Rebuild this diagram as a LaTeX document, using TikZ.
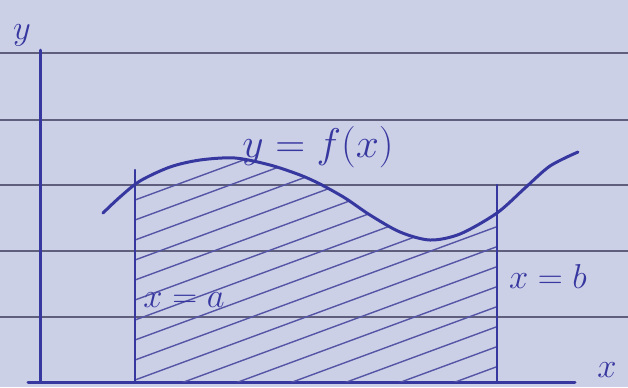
\documentclass[tikz,border=0pt]{standalone}
\usepackage{amsmath,amssymb}
\usetikzlibrary{positioning}

\definecolor{paper}{RGB}{204,208,231}
\definecolor{ruling}{RGB}{95,95,125}
\definecolor{ink}{RGB}{55,55,160}
\definecolor{hatchink}{RGB}{85,85,165}

\begin{document}
\begin{tikzpicture}[x=0.5pt,y=-0.5pt,
  pen/.style={draw=ink,line width=1.5pt,line cap=round,line join=round},
  hatchline/.style={draw=hatchink,line width=0.7pt,line cap=round},
  label/.style={text=ink,font=\LARGE,inner sep=0pt}]
% Paper background
\fill[paper] (0,0) rectangle (628,387);
\useasboundingbox (0,0) rectangle (628,387);
% Draw the ruled lines of the page
\foreach \r in {53,120,185,251,317}
  \draw[ruling,line width=0.6pt] (0,\r) -- (628,\r);
% Axes
\coordinate (O) at (40,382);
\coordinate (ytop) at (40,50);
\coordinate (xstart) at (28,382);
\coordinate (xend) at (575,382);
\draw[pen] (O) -- (ytop);
\draw[pen] (xstart) -- (xend);
\node[label] (ylab) at (22,35) {$y$};
\node[label] (xlab) at (607,370) {$x$};
% Hatch the area under the curve
\begin{scope}
  \clip (135,382) -- plot[smooth] coordinates {(135,183) (170,167) (200,160) (235,158) (270,165) (300,175) (320,184) (345,198) (370,215) (400,232) (430,240) (460,234) (497,213)} -- (497,382) -- cycle;
  \foreach \c in {180,200,...,540}
    \draw[hatchline] (135,\c) -- ++(380,-140);
\end{scope}
% The curve y = f(x)
\draw[pen] plot[smooth] coordinates {(103,213) (120,197) (140,181) (170,167) (200,160) (235,158) (270,165) (300,175) (320,184) (345,198) (370,215) (400,232) (430,240) (460,234) (497,213) (525,188) (550,166) (578,152)};
\node[label,font=\huge] (flab) at (318,147) {$y=f(x)$};
% Bounds x = a and x = b
\coordinate (a0) at (135,382);
\coordinate (a1) at (135,170);
\coordinate (b0) at (497,382);
\coordinate (b1) at (497,185);
\draw[pen,line width=1.2pt] (a0) -- (a1);
\draw[pen,line width=1.2pt] (b0) -- (b1);
\node[label] (alab) at (184,300) {$x=a$};
\node[label] (blab) at (548,276) {$x=b$};
\end{tikzpicture}
\end{document}
